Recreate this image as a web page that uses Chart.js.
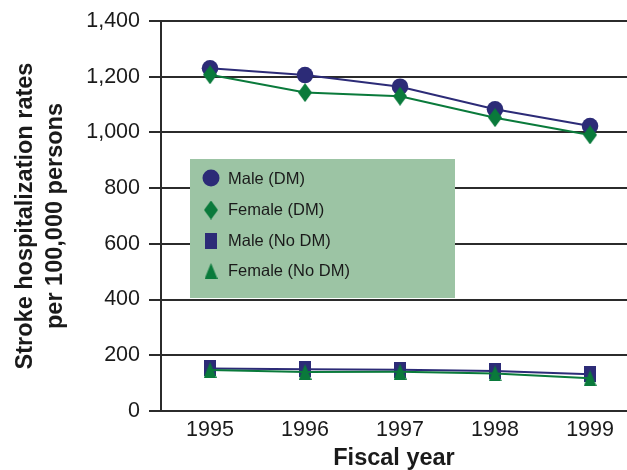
<!DOCTYPE html>
<html><head><meta charset="utf-8">
<script src="https://cdn.jsdelivr.net/npm/chart.js@4"></script>
<style>html,body{margin:0;padding:0;background:#fff;overflow:hidden}</style>
</head><body>
<canvas id="c" width="627" height="470"></canvas>
<script>
// ---- data ----
const years = [1995, 1996, 1997, 1998, 1999];
const seriesLabels = ['Male (DM)', 'Female (DM)', 'Male (No DM)', 'Female (No DM)'];
const maleDM = [1230, 1206, 1164, 1083, 1023];
const femaleDM = [1207, 1143, 1130, 1053, 991];
const maleNoDM = [153, 150, 148, 144, 132];
const femaleNoDM = [147, 140, 141, 135, 118];
const yTickValues = [0, 200, 400, 600, 800, 1000, 1200, 1400];
const xTitle = 'Fiscal year';
const yTitle = ['Stroke hospitalization rates', 'per 100,000 persons'];

// ---- styles ----
const NAVY = '#2c2b77';
const GREEN = '#0a7a3b';
const INK = '#1a1a1a';
const FONT = "'Liberation Sans', Arial, Helvetica, sans-serif";

function makeShape(type, w, h, color) {
  const c = document.createElement('canvas');
  c.width = w; c.height = h;
  const g = c.getContext('2d');
  g.fillStyle = color;
  g.beginPath();
  if (type === 'diamond') {
    g.moveTo(w / 2, 0); g.lineTo(w, h / 2); g.lineTo(w / 2, h); g.lineTo(0, h / 2);
  } else if (type === 'tri') {
    g.moveTo(w / 2, 0); g.lineTo(w, h); g.lineTo(0, h);
  } else {
    g.rect(0, 0, w, h);
  }
  g.closePath();
  g.fill();
  return c;
}
const diamondImg = makeShape('diamond', 14, 19, GREEN);
const rectImg = makeShape('rect', 12, 16, NAVY);
const triImg = makeShape('tri', 13, 16, GREEN);

const pts = arr => years.map((y, i) => ({ x: y, y: arr[i] }));

const datasets = [
  { label: seriesLabels[0], data: pts(maleDM), borderColor: NAVY, backgroundColor: NAVY,
    pointStyle: 'circle', pointRadius: 8.3, pointBorderWidth: 0, order: 1 },
  { label: seriesLabels[1], data: pts(femaleDM), borderColor: GREEN, backgroundColor: GREEN,
    pointStyle: diamondImg, pointRadius: 9, order: 0 },
  { label: seriesLabels[2], data: pts(maleNoDM), borderColor: NAVY, backgroundColor: NAVY,
    pointStyle: rectImg, pointRadius: 8, order: 1 },
  { label: seriesLabels[3], data: pts(femaleNoDM), borderColor: GREEN, backgroundColor: GREEN,
    pointStyle: triImg, pointRadius: 8, order: 0 }
];
datasets.forEach(d => { d.borderWidth = 2; d.tension = 0; d.fill = false; d.clip = false; });

const legendBox = {
  id: 'legendBox',
  afterDraw(chart) {
    const ctx = chart.ctx;
    ctx.save();
    ctx.fillStyle = '#9cc4a4';
    ctx.fillRect(190, 159, 265, 139);
    const rows = [179, 210, 241, 271];
    const icons = [null, diamondImg, rectImg, triImg];
    ctx.font = '16.5px ' + FONT;
    ctx.textBaseline = 'middle';
    ctx.textAlign = 'left';
    seriesLabels.forEach((lab, i) => {
      const y = rows[i];
      const x = 211;
      if (i === 0) {
        ctx.fillStyle = NAVY;
        ctx.beginPath(); ctx.arc(x, y - 1, 8.5, 0, Math.PI * 2); ctx.fill();
      } else {
        const im = icons[i];
        ctx.drawImage(im, x - im.width / 2, y - im.height / 2);
      }
      ctx.fillStyle = INK;
      ctx.fillText(lab, 228, y);
    });
    ctx.restore();
  }
};

Chart.defaults.font.family = FONT;
Chart.defaults.color = INK;

new Chart(document.getElementById('c'), {
  type: 'line',
  data: { datasets },
  options: {
    responsive: false,
    animation: false,
    devicePixelRatio: 1,
    layout: { autoPadding: false, padding: { top: 21, right: 0, left: 0, bottom: 0 } },
    plugins: { legend: { display: false }, tooltip: { enabled: false } },
    scales: {
      x: {
        type: 'linear',
        min: 1994.484,
        max: 1999.389,
        afterBuildTicks: s => { s.ticks = years.map(v => ({ value: v })); },
        afterFit: s => { s.height = 59; s.paddingLeft = 0; s.paddingRight = 0; },
        grid: { display: false, drawTicks: false },
        border: { display: false },
        ticks: { font: { size: 21.5 }, color: INK, padding: 6, callback: v => String(v), maxRotation: 0 },
        title: { display: true, text: xTitle, font: { size: 23.5, weight: 'bold', lineHeight: 1.0 }, color: INK,
                 padding: { top: 0, bottom: 0 } }
      },
      y: {
        min: 0,
        max: 1400,
        afterBuildTicks: s => { s.ticks = yTickValues.map(v => ({ value: v })); },
        afterFit: s => { s.width = 161; s.paddingTop = 0; s.paddingBottom = 0; },
        grid: { color: '#2b2b2b', lineWidth: 2, tickLength: 12, drawTicks: true },
        border: { display: true, color: '#2b2b2b', width: 2 },
        ticks: { font: { size: 21.5 }, color: INK, padding: 9,
                 callback: v => v.toLocaleString('en-US') },
        title: { display: true, text: yTitle, font: { size: 23.5, weight: 'bold', lineHeight: 1.28 },
                 color: INK, padding: { top: 10, bottom: 0 } }
      }
    }
  },
  plugins: [legendBox]
});
</script>
</body></html>
